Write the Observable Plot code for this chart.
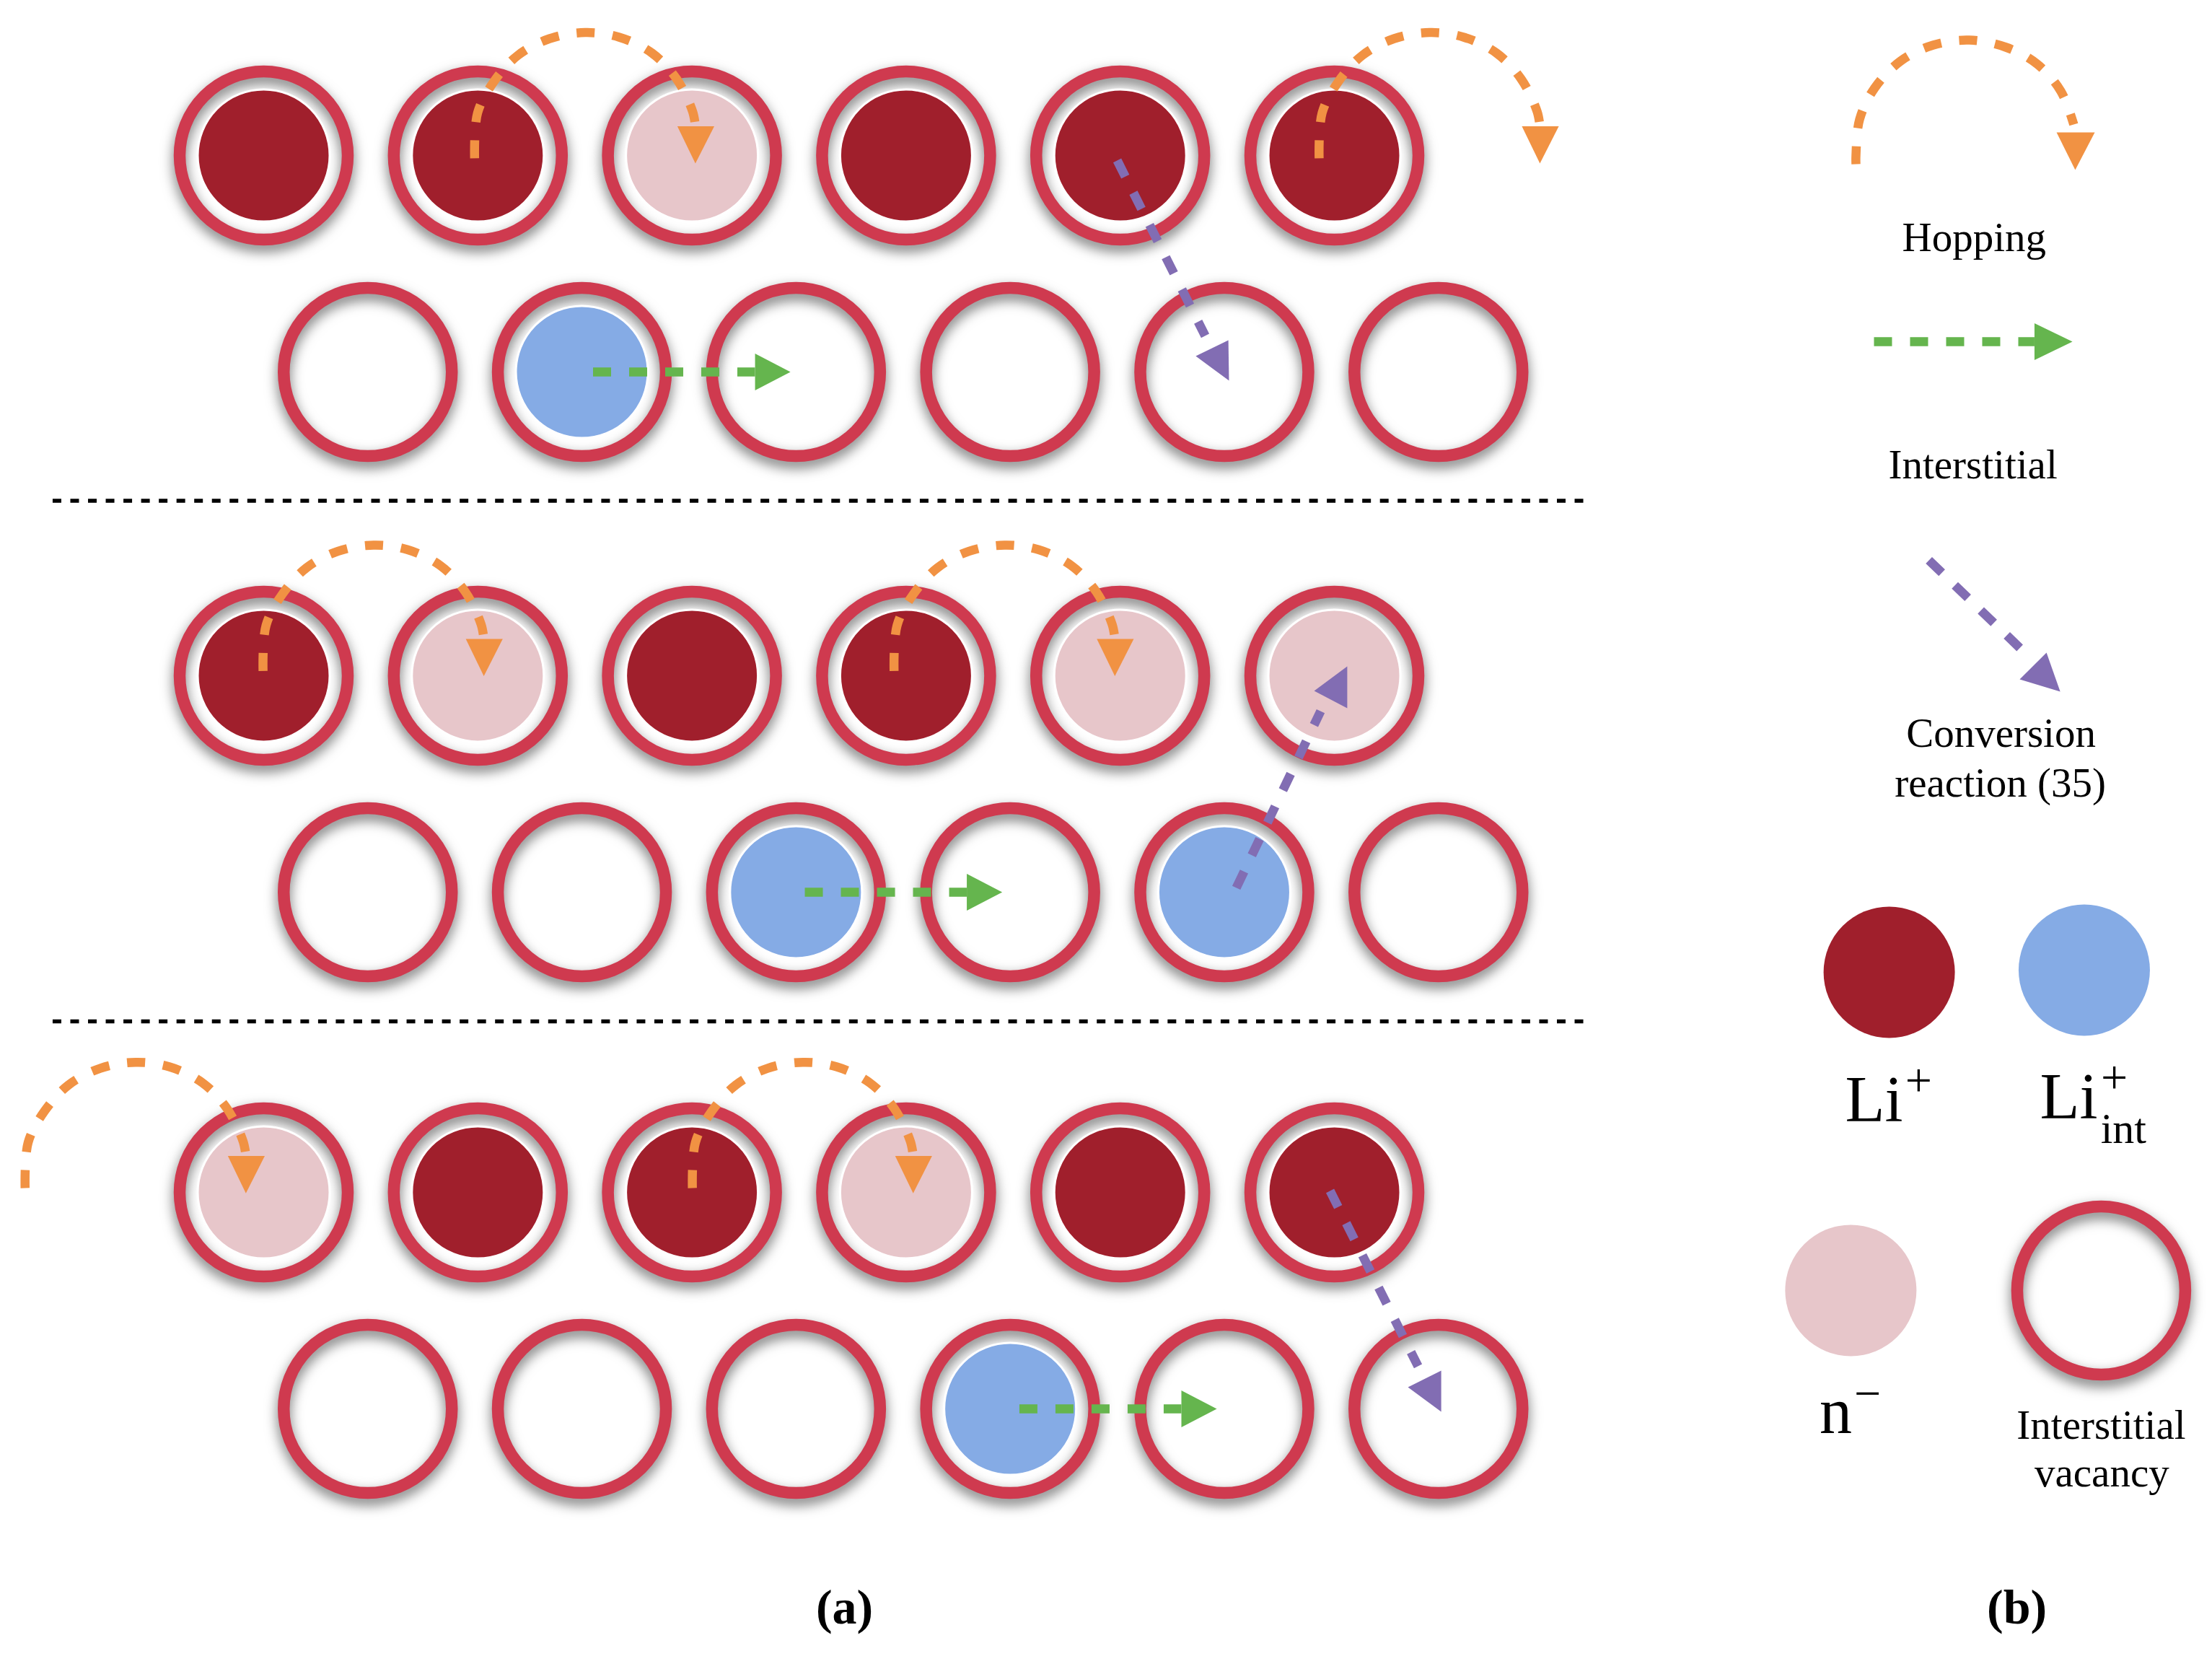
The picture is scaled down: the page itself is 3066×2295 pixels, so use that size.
<!DOCTYPE html>
<html>
<head>
<meta charset="utf-8">
<script src="https://cdn.jsdelivr.net/npm/d3@7"></script>
<script src="https://cdn.jsdelivr.net/npm/@observablehq/plot@0.6"></script>
<style>
  html, body { margin: 0; background: white; }
  svg { display: block; }
</style>
</head>
<body>
<script>
// lattice: x = site column, y = row, one unit is about one site spacing
const speciesNames = ["Li+", "Li+int", "n-"];
const speciesColors = ["#a01f2c", "#85abe5", "#e7c6ca"];

const latticeRows = [0, 2.403, 4.79];
const interstitialRows = [1, 3.403, 5.79];
const columnStep = 0.998;
const interstitialShift = 0.485;

const latticeStates = [
  ["Li+", "Li+", "n-", "Li+", "Li+", "Li+"],
  ["Li+", "n-", "Li+", "Li+", "n-", "n-"],
  ["n-", "Li+", "Li+", "n-", "Li+", "Li+"],
];
const interstitialStates = [
  ["", "Li+int", "", "", "", ""],
  ["", "", "Li+int", "", "Li+int", ""],
  ["", "", "", "Li+int", "", ""],
];
const separatorRows = [1.595, 4.0];

// hopping arrows: one arc shape, moved to each starting site
const hopCols = [1, 4.936, 0.014, 2.955, -1.095, 2.015];
const hopRows = [0, 0, 2.368, 2.368, 4.757, 4.757];
const hopArcX = [-0.017, -0.003, 0.074, 0.185, 0.333, 0.498, 0.656, 0.81, 0.925, 0.999, 1.012];
const hopArcY = [0.013, -0.197, -0.343, -0.463, -0.54, -0.568, -0.547, -0.473, -0.353, -0.203, -0.137];
const hopHeadX = [0.928, 1.1, 1.012];
const hopHeadY = [-0.135, -0.135, 0.037];

// interstitial arrows
const jumpCols = [1.49, 2.477, 3.477];
const jumpRows = [1, 3.403, 5.79];
const jumpLineX = [0.045, 0.8];
const jumpHeadX = [0.8, 0.8, 0.965];
const jumpHeadY = [-0.085, 0.085, 0];

// conversion arrows, each one read by itself
const conversionLines = [
  { x: [3.978, 4.388], y: [0.023, 0.833] },
  { x: [4.533, 4.926], y: [3.383, 2.567] },
  { x: [4.97, 5.38], y: [4.783, 5.593] },
];
const conversionHeads = [
  { x: [4.496, 4.499, 4.344], y: [0.853, 1.04, 0.927] },
  { x: [5.05, 5.05, 4.896], y: [2.36, 2.553, 2.473] },
  { x: [5.488, 5.488, 5.333], y: [5.613, 5.803, 5.69] },
];

// key on the right
const keyHopX = [7.421, 7.421, 7.438, 7.509, 7.63, 7.781, 7.949, 8.12, 8.265, 8.376, 8.436];
const keyHopY = [0.04, 0, -0.167, -0.313, -0.437, -0.51, -0.533, -0.5, -0.423, -0.297, -0.143];
const keyHopHeadX = [8.356, 8.534, 8.443];
const keyHopHeadY = [-0.107, -0.107, 0.067];
const keyJumpX = [7.505, 8.253];
const keyJumpY = [0.86, 0.86];
const keyJumpHeadX = [8.253, 8.253, 8.43];
const keyJumpHeadY = [0.775, 0.945, 0.86];
const keyConvX = [7.761, 8.19];
const keyConvY = [1.87, 2.28];
const keyConvHeadX = [8.309, 8.373, 8.184];
const keyConvHeadY = [2.297, 2.477, 2.42];
const keyDiscSpecies = ["Li+", "Li+int", "n-"];
const keyDiscX = [7.576, 8.485, 7.397];
const keyDiscY = [3.773, 3.763, 5.243];
const keyRingX = [8.564];
const keyRingY = [5.243];

const smallLabels = ["Hopping", "Interstitial", "Conversion", "reaction (35)", "Interstitial", "vacancy"];
const smallLabelX = [7.972, 7.966, 8.097, 8.094, 8.564, 8.567];
const smallLabelY = [0.443, 1.49, 2.73, 2.963, 5.927, 6.147];
const speciesLabels = ["Li", "Li", "n"];
const speciesLabelX = [7.505, 8.413, 7.327];
const speciesLabelY = [4.46, 4.447, 5.903];
const chargeLabels = ["+", "+", "−"];
const chargeLabelX = [7.713, 8.625, 7.475];
const chargeLabelY = [4.345, 4.33, 5.79];
const subscriptLabels = ["int"];
const subscriptLabelX = [8.668];
const subscriptLabelY = [4.56];
const panelLabels = ["(a)", "(b)"];
const panelLabelX = [2.707, 8.171];
const panelLabelY = [6.783, 6.783];

const serif = "Liberation Serif";
const ringColor = "#cf3a4f";
const hopColor = "#f19243";
const jumpColor = "#65b54e";
const convColor = "#826db3";
const ringShadow = "drop-shadow(0px 8px 9px rgba(0,0,0,0.55))";

const latticeSites = latticeStates.flatMap((states, p) =>
  states.map((species, c) => ({ col: c * columnStep, row: latticeRows[p], species }))
);
const interstitialSites = interstitialStates.flatMap((states, p) =>
  states.map((species, c) => ({ col: c * columnStep + interstitialShift, row: interstitialRows[p], species }))
);
const sites = latticeSites.concat(interstitialSites);
const filled = sites.filter((d) => d.species);
const keyDiscs = keyDiscSpecies.map((species, i) => ({ col: keyDiscX[i], row: keyDiscY[i], species }));
const keyRings = keyRingX.map((col, i) => ({ col, row: keyRingY[i] }));

const hopArcs = hopCols.flatMap((c, i) =>
  hopArcX.map((x, j) => ({ id: i, x: c + x, y: hopRows[i] + hopArcY[j] }))
);
const hopHeads = hopCols.flatMap((c, i) =>
  hopHeadX.map((x, j) => ({ id: i, x: c + x, y: hopRows[i] + hopHeadY[j] }))
);
const jumpLines = jumpCols.flatMap((c, i) =>
  jumpLineX.map((x) => ({ id: i, x: c + x, y: jumpRows[i] }))
);
const jumpHeads = jumpCols.flatMap((c, i) =>
  jumpHeadX.map((x, j) => ({ id: i, x: c + x, y: jumpRows[i] + jumpHeadY[j] }))
);
const toPoints = (list) =>
  list.flatMap((d, i) => d.x.map((x, j) => ({ id: i, x, y: d.y[j] })));
const zipXY = (xs, ys) => xs.map((x, i) => ({ x, y: ys[i] }));

const dashed = (data, stroke, extra = {}) =>
  Plot.line(data, {
    x: "x",
    y: "y",
    stroke,
    strokeWidth: 12.5,
    strokeDasharray: "25,25",
    strokeLinecap: "butt",
    ...extra,
  });
const head = (data, fill, extra = {}) =>
  Plot.line(data, { x: "x", y: "y", fill, stroke: "none", curve: "linear-closed", ...extra });
const rings = (data) =>
  Plot.dot(data, {
    x: "col",
    y: "row",
    r: 116.5,
    stroke: ringColor,
    strokeWidth: 16.5,
    imageFilter: ringShadow,
  });
const label = (texts, xs, ys, fontSize, extra = {}) =>
  Plot.text(texts, {
    x: xs,
    y: ys,
    text: (d) => d,
    fontFamily: serif,
    fontSize,
    lineAnchor: "bottom",
    fill: "black",
    ...extra,
  });

const chart = Plot.plot({
  width: 3066,
  height: 2295,
  margin: 0,
  style: { background: "white" },
  x: { domain: [0, 5], range: [365, 1852], axis: null },
  y: { domain: [0, 5.8], range: [215, 1955], axis: null },
  color: { domain: speciesNames, range: speciesColors },
  marks: [
    Plot.ruleY(separatorRows, {
      x1: -0.982,
      x2: 6.158,
      stroke: "black",
      strokeWidth: 5.5,
      strokeDasharray: "12,12.53",
    }),
    rings(sites),
    Plot.dot(filled, { x: "col", y: "row", r: 91.5, fill: "species", stroke: "white", strokeWidth: 3 }),

    dashed(hopArcs, hopColor, { z: "id", curve: "catmull-rom" }),
    head(hopHeads, hopColor, { z: "id" }),
    dashed(jumpLines, jumpColor, { z: "id" }),
    head(jumpHeads, jumpColor, { z: "id" }),
    dashed(toPoints(conversionLines), convColor, { z: "id" }),
    head(toPoints(conversionHeads), convColor, { z: "id" }),

    // key
    dashed(zipXY(keyHopX, keyHopY), hopColor, { curve: "catmull-rom" }),
    head(zipXY(keyHopHeadX, keyHopHeadY), hopColor),
    dashed(zipXY(keyJumpX, keyJumpY), jumpColor),
    head(zipXY(keyJumpHeadX, keyJumpHeadY), jumpColor),
    dashed(zipXY(keyConvX, keyConvY), convColor),
    head(zipXY(keyConvHeadX, keyConvHeadY), convColor),
    Plot.dot(keyDiscs, { x: "col", y: "row", r: 91, fill: "species" }),
    rings(keyRings),

    label(smallLabels, smallLabelX, smallLabelY, 57),
    label(speciesLabels, speciesLabelX, speciesLabelY, 90),
    label(chargeLabels, chargeLabelX, chargeLabelY, 66),
    label(subscriptLabels, subscriptLabelX, subscriptLabelY, 60),
    label(panelLabels, panelLabelX, panelLabelY, 68, { fontWeight: "bold" }),
  ],
});

document.body.append(chart);
</script>
</body>
</html>
